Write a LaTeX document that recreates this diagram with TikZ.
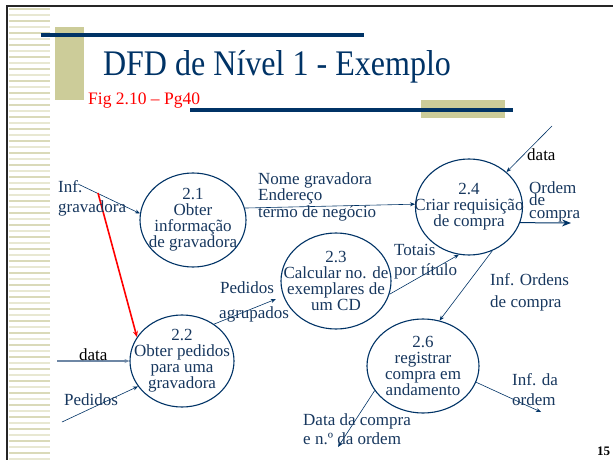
\documentclass[tikz,border=0pt]{standalone}
\usepackage{fontspec}
\setmainfont{Liberation Serif}
\usetikzlibrary{shapes.geometric,arrows.meta}
\definecolor{navy}{RGB}{0,51,102}
\definecolor{ink}{RGB}{23,55,94}
\definecolor{beige}{RGB}{204,204,153}
\definecolor{stripeA}{RGB}{232,232,210}
\definecolor{stripeB}{RGB}{218,218,185}
\definecolor{datagray}{RGB}{110,135,165}
\begin{document}
\begin{tikzpicture}[x=1pt,y=-1pt,
  proc/.style={ellipse, draw=navy, line width=1.1pt, inner xsep=-30pt, inner ysep=-20pt, align=center,
    text=ink, font=\fontsize{17}{16}\selectfont},
  lbl/.style={anchor=base west, inner sep=0pt, text=ink, font=\fontsize{17}{12.5}\selectfont, align=left},
  blk/.style={lbl, text=black},
  flow/.style={draw=navy, line width=0.6pt, -{Stealth[length=5pt,width=4pt]}},
  redflow/.style={draw=red, line width=1.6pt, -{Stealth[length=6pt,width=5pt]}}
]
\useasboundingbox (0,0) rectangle (613,460);
\fill[white] (0,0) rectangle (613,460);
% left stripes
\foreach \y in {8,20,...,458} {\fill[stripeB] (9,\y) rectangle (50,\y+2);}
\foreach \y in {14,26,...,458} {\fill[stripeA] (9,\y) rectangle (50,\y+2);}
% frame
\draw[black!85, line width=2pt] (7,460) -- (7,6) -- (613,6);
% title decorations
\fill[beige] (55,27) rectangle (84,100);
\fill[navy] (41,33) rectangle (364,37);
\fill[beige] (421,100) rectangle (505,118);
\fill[navy] (190,108) rectangle (513,112);
\node[anchor=base, inner sep=0pt, text=navy, font=\fontsize{36}{36}\selectfont] (title) at (277,75) {\scalebox{0.89}[1]{DFD de Nível 1 - Exemplo}};
\node[anchor=base west, inner sep=0pt, text=red, font=\fontsize{17.5}{18}\selectfont] (fig) at (88,104) {Fig 2.10 – Pg40};
% processes
\node[proc, minimum width=106pt, minimum height=94pt] (e21) at (193,220) {2.1\\Obter\\informação\\de gravadora};
\node[proc, minimum width=104pt, minimum height=92pt] (e22) at (182,361) {2.2\\Obter pedidos\\para uma\\gravadora};
\node[proc, minimum width=110pt, minimum height=96pt] (e23) at (336,281) {2.3\\Calcular no. de\\exemplares de\\um CD};
\node[proc, minimum width=107pt, minimum height=96pt] (e24) at (469,207) {\raisebox{0pt}{2.4}\\Criar requisição\\de compra};
\node[proc, minimum width=112pt, minimum height=94pt] (e26) at (423,366) {2.6\\registrar\\compra em\\andamento};
% free ends
\coordinate (infg) at (78,184);
\coordinate (redstart) at (98,193);
\coordinate (datatop) at (552,126);
\coordinate (ordemend) at (571,223);
\coordinate (dataleft) at (57,361);
\coordinate (pedstart) at (62,422);
\coordinate (infdaend) at (541,412);
\coordinate (dataend) at (338,447);
% connectors
\draw[flow] (infg) -- (e21.173);
\draw[redflow] (redstart) -- (e22.152);
\draw[flow] (e21.13) -- (e24.177);
\draw[flow] (datatop) -- (e24.43);
\draw[draw=navy, line width=1pt, -{Stealth[length=9pt,width=7pt]}] (e24.-17) -- (ordemend);
\draw[flow] (e23.-14) -- (e24.258);
\draw[flow, shorten >=8pt] (e22.49) -- (e23.196);
\draw[draw=datagray, line width=1.3pt, -{Stealth[length=5pt,width=4pt]}] (dataleft) -- (e22.west);
\draw[flow] (pedstart) -- (e22.210);
\draw[flow] (e24.-62) -- (e26.70);
\draw[flow] (e26.-17) -- (infdaend);
\draw[flow] (e26.207) -- (dataend);
% labels
\node[lbl] (l1) at (58,192) {Inf.};
\node[lbl] (l2) at (58,212) {gravadora};
\node[lbl] (l3) at (258,217) {Nome gravadora\\Endereço\\termo de negócio};
\node[blk] (l4) at (527,160) {data};
\node[lbl] (l5) at (529,218) {Ordem\\de\\compra};
\node[lbl] (l6) at (394,255) {Totais};
\node[lbl] (l7) at (394,275) {por título};
\node[lbl] (l8) at (220,293) {Pedidos};
\node[lbl] (l9) at (219,318) {agrupados};
\node[blk] (l10) at (79,360) {data};
\node[lbl] (l11) at (64,405) {Pedidos};
\node[lbl] (l12) at (490,285) {Inf. Ordens};
\node[lbl] (l13) at (490,307) {de compra};
\node[lbl] (l14) at (512,385) {Inf. da};
\node[lbl] (l15) at (512,405) {ordem};
\node[lbl] (l16) at (303,425) {Data da compra};
\node[lbl] (l17) at (303,444) {e n.º da ordem};
\node[anchor=base west, inner sep=0pt, font=\bfseries\fontsize{13}{13}\selectfont] (pg) at (597,455) {15};
\end{tikzpicture}
\end{document}
